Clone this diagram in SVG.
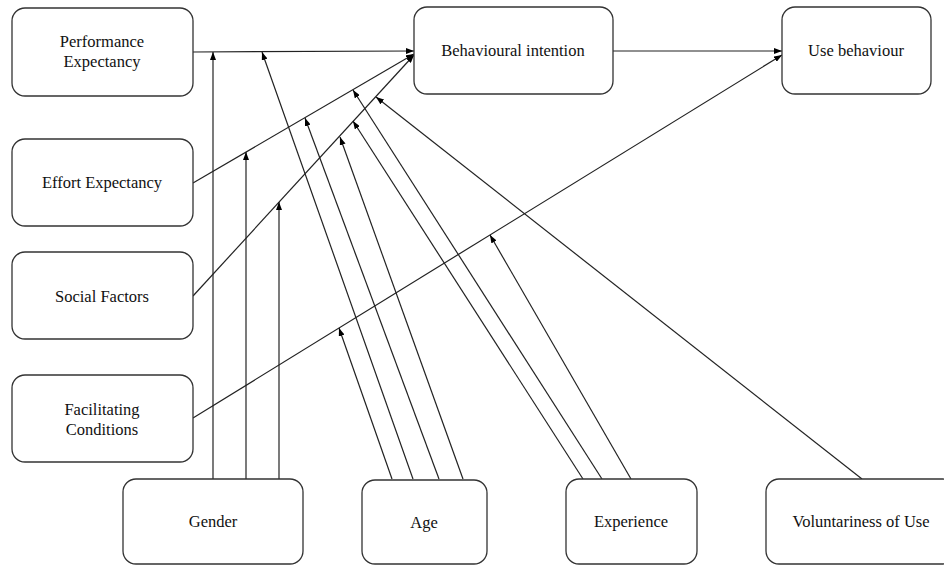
<svg xmlns="http://www.w3.org/2000/svg" width="944" height="565" viewBox="0 0 944 565">
  <defs>
    <marker id="arrow" viewBox="0 0 8 6" refX="8" refY="3" markerWidth="8" markerHeight="6" markerUnits="userSpaceOnUse" orient="auto">
      <path d="M0,0 L8,3 L0,6 z" fill="#000"/>
    </marker>
    <style>
      .box { fill: #fff; stroke: #333; stroke-width: 1.3; }
      .lbl { font-size: 16.5px; fill: #111; text-anchor: middle; }
      .edge { stroke: #222; stroke-width: 1.2; fill: none; marker-end: url(#arrow); }
    </style>
  </defs>
  <rect width="944" height="565" fill="#fff"/>

  <!-- connectors -->
  <g id="connectors">
    <!-- constructs to intention / use -->
    <line class="edge" x1="193" y1="52" x2="414" y2="51"/>
    <line class="edge" x1="193" y1="183" x2="414" y2="54"/>
    <line class="edge" x1="193" y1="296" x2="414" y2="55"/>
    <line class="edge" x1="613" y1="51" x2="782" y2="51"/>
    <line class="edge" x1="193" y1="418" x2="782" y2="55"/>
    <!-- gender moderation -->
    <line class="edge" x1="213" y1="479" x2="213" y2="52"/>
    <line class="edge" x1="246" y1="479" x2="246" y2="152"/>
    <line class="edge" x1="279" y1="479" x2="279" y2="202"/>
    <!-- age moderation -->
    <line class="edge" x1="413" y1="479" x2="262" y2="52"/>
    <line class="edge" x1="439" y1="479" x2="305" y2="118"/>
    <line class="edge" x1="463" y1="479" x2="340" y2="137"/>
    <line class="edge" x1="392" y1="479" x2="339" y2="328"/>
    <!-- experience moderation -->
    <line class="edge" x1="602" y1="479" x2="353" y2="90"/>
    <line class="edge" x1="583" y1="479" x2="353" y2="121"/>
    <line class="edge" x1="631" y1="479" x2="490" y2="235"/>
    <!-- voluntariness moderation -->
    <line class="edge" x1="862" y1="479" x2="376" y2="97"/>
  </g>

  <g font-family="'Liberation Serif', 'Times New Roman', 'DejaVu Serif', serif">
  <g id="performance-expectancy">
    <rect class="box" x="12" y="8" width="181" height="88" rx="13"/>
    <text class="lbl" x="102" y="47">Performance</text>
    <text class="lbl" x="102" y="67">Expectancy</text>
  </g>
  <g id="effort-expectancy">
    <rect class="box" x="12" y="139" width="181" height="87" rx="13"/>
    <text class="lbl" x="102" y="188">Effort Expectancy</text>
  </g>
  <g id="social-factors">
    <rect class="box" x="12" y="252" width="181" height="87" rx="13"/>
    <text class="lbl" x="102" y="302">Social Factors</text>
  </g>
  <g id="facilitating-conditions">
    <rect class="box" x="12" y="375" width="181" height="87" rx="13"/>
    <text class="lbl" x="102" y="415">Facilitating</text>
    <text class="lbl" x="102" y="435">Conditions</text>
  </g>
  <g id="behavioural-intention">
    <rect class="box" x="414" y="7" width="199" height="87" rx="13"/>
    <text class="lbl" x="513" y="56">Behavioural intention</text>
  </g>
  <g id="use-behaviour">
    <rect class="box" x="782" y="7" width="149" height="87" rx="13"/>
    <text class="lbl" x="856" y="56">Use behaviour</text>
  </g>
  <g id="gender">
    <rect class="box" x="123" y="479" width="180" height="85" rx="13"/>
    <text class="lbl" x="213" y="527">Gender</text>
  </g>
  <g id="age">
    <rect class="box" x="362" y="480" width="125" height="84" rx="13"/>
    <text class="lbl" x="424" y="528">Age</text>
  </g>
  <g id="experience">
    <rect class="box" x="566" y="479" width="131" height="85" rx="13"/>
    <text class="lbl" x="631" y="527">Experience</text>
  </g>
  <g id="voluntariness-of-use">
    <rect class="box" x="766" y="479" width="190" height="85" rx="13"/>
    <text class="lbl" x="861" y="527">Voluntariness of Use</text>
  </g>
  </g>
</svg>
